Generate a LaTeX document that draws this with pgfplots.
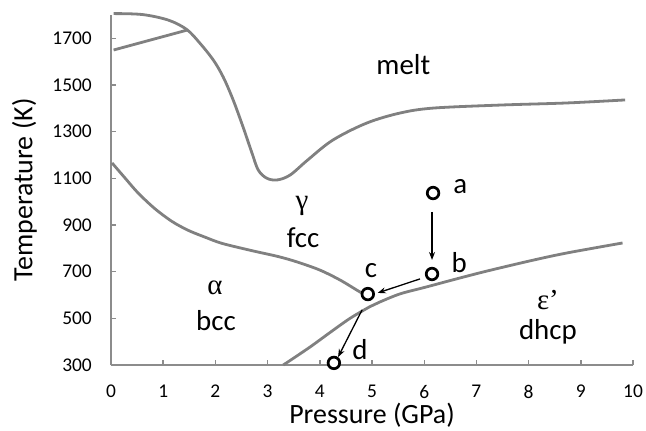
\documentclass[border=0pt]{standalone}
\usepackage{pgfplots}
\pgfplotsset{compat=1.18}
\usepackage{fontspec}
\setmainfont{Carlito}
\newfontfamily\grk{Liberation Serif}
\usetikzlibrary{arrows.meta}
\definecolor{curve}{RGB}{128,128,128}
\definecolor{axisgray}{RGB}{140,140,140}

\begin{document}
\begin{tikzpicture}
\begin{axis}[
    name=ax, at={(0,0)}, anchor=south west,
    scale only axis,
    width=522bp, height=350bp,
    xmin=0, xmax=10,
    ymin=300, ymax=1800,
    xtick={0,1,...,10},
    ytick={300,500,...,1700},
    axis lines*=left,
    axis line style={axisgray, line width=1.8bp},
    tick align=inside,
    major tick length=5bp,
    tick style={axisgray, line width=1.4bp},
    tick label style={font=\fontsize{19.5}{21}\selectfont},
    /pgf/number format/assume math mode=true,
    /pgf/number format/1000 sep={},
    xticklabel style={inner sep=0pt, anchor=north, yshift=-20bp},
    yticklabel style={inner sep=0pt, anchor=east, xshift=-19bp},
    xlabel={Pressure (GPa)},
    ylabel={Temperature (K)},
    label style={font=\fontsize{28}{30}\selectfont},
    xlabel style={at={(rel axis cs:0.5,0)}, anchor=north, yshift=-38bp, inner sep=0pt},
    ylabel style={at={(rel axis cs:0,0.5)}, anchor=south, yshift=74bp, inner sep=0pt},
    clip=false,
]

% melting curve
\addplot[curve, line width=2.8bp, smooth, tension=0.55] coordinates {
    (0.05,1806) (0.6,1802) (1.1,1778) (1.45,1738) (1.7,1680)
    (1.96,1607) (2.15,1534) (2.34,1436) (2.53,1320) (2.7,1209)
    (2.82,1136) (2.98,1101) (3.18,1093) (3.43,1114) (3.77,1179)
    (4.25,1264) (4.9,1337) (5.54,1380) (6.17,1401) (7.45,1414)
    (8.73,1423) (9.85,1436)
};
% delta-gamma line
\addplot[curve, line width=2.8bp] coordinates {
    (0.05,1650) (1.47,1736)
};
% alpha-gamma boundary
\addplot[curve, line width=2.8bp, smooth] coordinates {
    (0.02,1166) (0.27,1101) (0.52,1037) (0.84,970) (1.17,915)
    (1.48,877) (1.8,848) (2.13,821) (2.7,790) (3.2,765) (3.56,742)
    (4.0,707) (4.39,664) (4.77,613) (4.9,600)
};
% epsilon boundary
\addplot[curve, line width=2.8bp, smooth] coordinates {
    (3.3,300) (3.8,375) (4.2,440) (4.58,500) (4.96,550) (5.15,570)
    (5.54,605) (6.05,635) (6.55,665) (7.03,693) (7.45,716)
    (8.1,750) (8.73,780) (9.8,823)
};

% arrows
\draw[-{Stealth[length=8bp,width=6bp]}, line width=1.3bp] (axis cs:6.15,956) -- (axis cs:6.15,750);
\draw[-{Stealth[length=8bp,width=6bp]}, line width=1.3bp] (axis cs:5.92,669) -- (axis cs:5.11,609);
\draw[-{Stealth[length=8bp,width=6bp]}, line width=1.3bp] (axis cs:4.81,536) -- (axis cs:4.35,334);

% states
\addplot[only marks, mark=*, mark size=5.8bp, mark options={draw=black, fill=white, line width=2.7bp}] coordinates {
    (6.17,1037) (6.15,690) (4.92,604) (4.27,309)
};

\begin{scope}[every node/.style={inner sep=0pt, font=\fontsize{29}{30}\selectfont}]
\node at (axis cs:6.69,1063) {a};
\node at (axis cs:6.67,741) {b};
\node at (axis cs:4.98,703) {c};
\node at (axis cs:4.77,364) {d};
\node at (axis cs:5.6,1586) {melt};
\node at (axis cs:3.66,981) {\grk γ};
\node at (axis cs:3.68,844) {fcc};
\node at (axis cs:1.99,630) {\grk α};
\node at (axis cs:2.01,489) {bcc};
\node at (axis cs:8.37,579) {\grk ε’};
\node at (axis cs:8.37,441) {dhcp};
\end{scope}
\end{axis}
\pgfresetboundingbox
\path (-111bp,-66bp) rectangle (535bp,365bp);
\end{tikzpicture}
\end{document}
